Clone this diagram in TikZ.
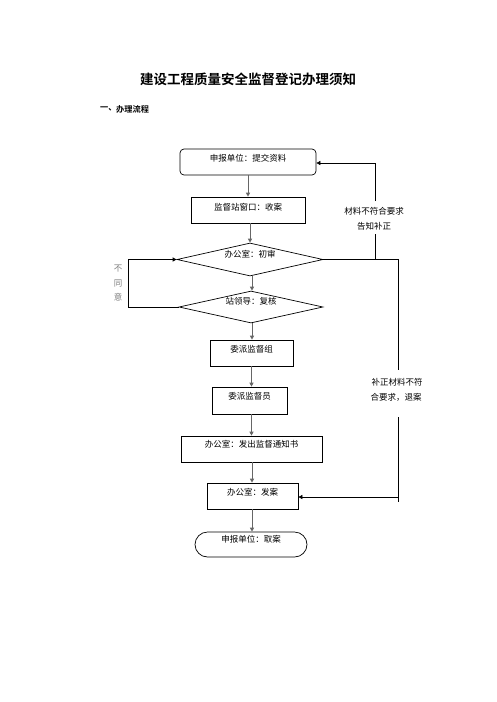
\documentclass[tikz,border=0pt]{standalone}
\usepackage{fontspec}
\newfontfamily\cjk{Noto Sans CJK SC}[BoldFont={Noto Sans CJK SC Bold}]
\usetikzlibrary{shapes.geometric,arrows.meta}
\begin{document}
\begin{tikzpicture}[x=1pt,y=-1pt,
  font=\cjk\fontsize{8.5}{10}\selectfont,
  box/.style={draw, line width=0.7pt, inner sep=0pt, minimum height=26pt},
  dia/.style={diamond, draw, line width=0.7pt, inner sep=0pt, minimum width=146pt, minimum height=33pt},
  txt/.style={inner sep=0pt, text=black},
  flow/.style={draw=black!60, line width=1pt, -{Triangle[length=4pt,width=4pt]}},
  loop/.style={draw=black, line width=0.7pt},
  looparr/.style={draw=black, line width=0.7pt, -{Triangle[length=4pt,width=4pt]}},
  note/.style={inner sep=0pt, text=black},
  grey/.style={inner sep=0pt, text=black!50}]
\useasboundingbox (0,0) rectangle (496,702);
\fill[white] (0,0) rectangle (496,702);

\node[txt, font=\cjk\bfseries\fontsize{13.5}{15}\selectfont] (title) at (248,79) {建设工程质量安全监督登记办理须知};
\node[txt, anchor=west, font=\cjk\bfseries\fontsize{8.2}{9}\selectfont] (sec1) at (100,109) {一、};
\node[txt, anchor=west, font=\cjk\bfseries\fontsize{8.2}{9}\selectfont] (sec2) at (116,109) {办理流程};

\node[box, rounded corners=4pt, minimum width=136pt] (b1) at (248,162) {};
\node[txt] (t1) at (248,158) {申报单位：提交资料};
\node[box, minimum width=114pt] (b2) at (248,210) {};
\node[txt] (t2) at (248,207) {监督站窗口：收案};
\node[dia] (d1) at (250,259.5) {};
\node[txt] (t3) at (250,254) {办公室：初审};
\node[dia, minimum width=144pt, minimum height=32pt] (d2) at (251,307) {};
\node[txt] (t4) at (251,301.5) {站领导：复核};
\node[box, minimum width=83pt] (b3) at (251.5,353) {};
\node[txt] (t5) at (251.5,349.5) {委派监督组};
\node[box, minimum width=75pt, minimum height=27pt] (b4) at (249.5,400.5) {};
\node[txt] (t6) at (249.5,396.5) {委派监督员};
\node[box, minimum width=141pt] (b5) at (251.5,449) {};
\node[txt] (t7) at (251.5,444.5) {办公室：发出监督通知书};
\node[box, minimum width=91pt] (b6) at (252.5,496) {};
\node[txt] (t8) at (252.5,492) {办公室：发案};
\node[box, rounded corners=12.5pt, minimum width=112pt, minimum height=25pt] (b7) at (251,544.5) {};
\node[txt] (t9) at (251,539.5) {申报单位：取案};

% main flow
\draw[flow] (b1.south) -- (b1.south |- b2.north);
\draw[flow] ([xshift=2pt]b2.south) -- ([xshift=2pt]b2.south |- d1.north);
\draw[flow] ([xshift=2pt]d1.south) -- ([xshift=2pt]d1.south |- d2.north);
\draw[flow] ([xshift=1pt]d2.south) -- ([xshift=1pt]d2.south |- b3.north);
\draw[flow] (b3.south) -- (b3.south |- b4.north);
\draw[flow] ([xshift=2pt]b4.south) -- ([xshift=2pt]b4.south |- b5.north);
\draw[flow] ([xshift=0.5pt]b5.south) -- ([xshift=0.5pt]b5.south |- b6.north);
\draw[flow] ([xshift=-0.5pt]b6.south) -- ([xshift=-0.5pt]b6.south |- b7.north);

% left loop: not agreed
\coordinate (lx) at (128,0);
\draw[looparr] (d2.west) -- (d2.west -| lx) -- (d1.west -| lx) -- (d1.west);
\node[grey] (n1) at (118,269) {不};
\node[grey] (n2) at (118,283) {同};
\node[grey] (n3) at (118,297) {意};

% right loop: return
\coordinate (rx) at (398,0);
\coordinate (rtop) at (398,370);
\coordinate (rbot) at (398,417);
\coordinate (rend) at (398,502);
\draw[loop] (d1.east) -- (d1.east -| rx) -- (rtop);
\draw[loop] (rbot) -- (rend);
\draw[looparr] (398,497) -- (b6.east |- 0,497);
\node[note] (r1) at (397,382) {补正材料不符};
\node[note] (r2) at (396,397) {合要求，退案};

% upper loop: supplement
\coordinate (ux) at (375,0);
\draw[loop] (d1.east -| ux) -- (375,234);
\draw[looparr] (375,201) -- (375,163) -- (b1.east |- 0,163);
\node[note] (u1) at (374,211) {材料不符合要求};
\node[note] (u2) at (374,226) {告知补正};
\end{tikzpicture}
\end{document}
